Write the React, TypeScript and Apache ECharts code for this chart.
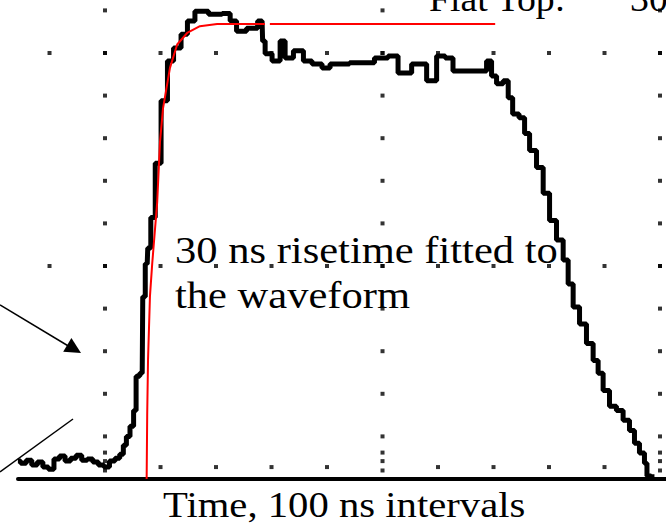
import React, { useEffect, useRef } from "react";
import * as echarts from "echarts";

// Measured pulse (time in ns, level in vertical divisions)
const waveNs = [
  -157, -147, -137, -127, -117, -107, -97, -87, -77, -67, -57, -47, -37, -27, -17, -7, 3, 13, 23, 30,
  36, 41, 49, 54, 58, 67, 69, 76, 78, 87, 94, 108, 117, 130, 144, 153, 171, 202, 220, 231, 243, 267,
  283, 285, 292, 310, 321, 328, 351, 364, 382, 400, 411, 470, 501, 519, 537, 568, 591, 604, 622, 632,
  681, 694, 699, 712, 723, 730, 739, 753, 759, 771, 784, 795, 807, 820, 831, 838, 849, 861, 874, 885,
  892, 903, 915, 928, 939, 951, 957, 969, 975, 978, 990,
];
const waveLevel = [
  0.42, 0.37, 0.44, 0.33, 0.4, 0.28, 0.23, 0.47, 0.54, 0.42, 0.49, 0.56, 0.44, 0.47, 0.4, 0.33, 0.28, 0.42, 0.49, 0.58,
  0.79, 1.0, 1.24, 1.61, 2.41, 2.48, 4.28, 5.05, 5.42, 6.14, 7.41, 8.88, 9.81, 10.12, 10.44, 10.75, 10.98, 10.91, 10.93, 10.75, 10.51, 10.58,
  10.75, 10.28, 9.98, 9.81, 10.28, 9.88, 10.05, 9.81, 9.74, 9.65, 9.74, 9.77, 9.88, 9.93, 9.53, 9.74, 9.35, 9.93, 9.88, 9.58,
  9.58, 9.81, 9.46, 9.28, 9.35, 8.95, 8.57, 8.48, 8.11, 7.71, 7.31, 6.71, 6.07, 5.61, 5.14, 4.58, 4.04, 3.64, 3.18, 2.78,
  2.48, 2.08, 1.71, 1.61, 1.38, 1.14, 0.84, 0.61, 0.37, 0.07, 0.05,
];

// 30 ns risetime fit and its flat-top level
const fitNs = [75, 76, 77.5, 81, 85, 94, 99, 104.5, 117, 130, 148, 171, 202, 288, 290, 297, 703];
const fitLevel = [0, 1.5, 2.8, 4.3, 5.05, 6.5, 7.9, 8.7, 9.65, 10.2, 10.47, 10.63, 10.68, 10.68, null, 10.68, 10.68];

// Scope graticule
const majorColumnsNs = [0, 500, 1000];
const majorRowsLevel = [5, 10];
const minorStepsNs = [-100, 0, 100, 200, 300, 400, 500, 600, 700, 800, 900, 1000];
const minorStepsLevel = [1, 2, 3, 4, 5, 6, 7, 8, 9, 10, 11];
const baseTicksNs = [100, 200, 300, 400, 600, 700, 800, 900];
const baseTickLevel = [0.28];
const columnFootLevel = [0.2, 0.42, 0.62];

const serif = '"Liberation Serif", "Times New Roman", serif';

export default function App() {
  const ref = useRef<HTMLDivElement>(null);

  useEffect(() => {
    if (!ref.current) return;
    const chart = echarts.init(ref.current, undefined, { renderer: "svg" });

    const dots: number[][] = [];
    majorColumnsNs.forEach((t) => {
      minorStepsLevel.forEach((v) => dots.push([t, v]));
      columnFootLevel.forEach((v) => dots.push([t, v]));
    });
    majorRowsLevel.forEach((v) => minorStepsNs.forEach((t) => dots.push([t, v])));
    baseTicksNs.forEach((t) => baseTickLevel.forEach((v) => dots.push([t, v])));

    const wave = waveNs.map((t, i) => [t, waveLevel[i]]);
    const fit = fitNs.map((t, i) => [t, fitLevel[i]]);

    const text = (content: string, x: number, y: number, size: number, sx: number) => ({
      type: "text",
      x,
      y,
      scaleX: sx,
      z: 20,
      style: {
        text: content,
        font: `${size}px ${serif}`,
        fill: "#000",
        align: "left",
        verticalAlign: "middle",
        textAlign: "left",
        textVerticalAlign: "middle",
      },
    });

    chart.setOption({
      animation: false,
      backgroundColor: "#fff",
      grid: { left: 18, right: 0, top: 0, bottom: 48 },
      xAxis: {
        type: "value",
        min: -156.8,
        max: 1010.8,
        axisLine: { show: true, onZero: true, lineStyle: { color: "#000", width: 4 } },
        axisTick: { show: false },
        axisLabel: { show: false },
        splitLine: { show: false },
      },
      yAxis: {
        type: "value",
        min: 0,
        max: 11.244,
        axisLine: { show: false },
        axisTick: { show: false },
        axisLabel: { show: false },
        splitLine: { show: false },
      },
      series: [
        {
          type: "scatter",
          data: dots,
          symbol: "rect",
          symbolSize: 4,
          itemStyle: { color: "#000" },
          silent: true,
          z: 1,
        },
        {
          type: "line",
          data: wave,
          step: "middle",
          showSymbol: false,
          clip: false,
          lineStyle: { color: "#000", width: 5 },
          z: 2,
        },
        {
          type: "line",
          data: fit,
          showSymbol: false,
          connectNulls: false,
          clip: false,
          lineStyle: { color: "#ff0000", width: 2 },
          z: 3,
        },
      ],
      graphic: [
        { type: "line", z: 20, shape: { x1: 0, y1: 305, x2: 70, y2: 347 }, style: { stroke: "#000", lineWidth: 1.5 } },
        { type: "polygon", z: 20, shape: { points: [[81, 353], [63.2, 351.7], [71.4, 337.9]] }, style: { fill: "#000" } },
        { type: "line", z: 20, shape: { x1: 0, y1: 472, x2: 73, y2: 419 }, style: { stroke: "#000", lineWidth: 1.5 } },
        text("30 ns risetime fitted to", 175, 250, 38, 1.12),
        text("the waveform", 175, 295, 38, 1.12),
        text("Time, 100 ns intervals", 163, 505, 36, 1.13),
        text("Flat Top:", 429, -0.5, 35, 1.08),
        text("30", 630, -0.5, 35, 1.08),
      ],
    });

    return () => chart.dispose();
  }, []);

  return (
    <div
      ref={ref}
      style={{ position: "absolute", left: 0, top: 0, width: 666, height: 527, background: "#fff" }}
    />
  );
}
